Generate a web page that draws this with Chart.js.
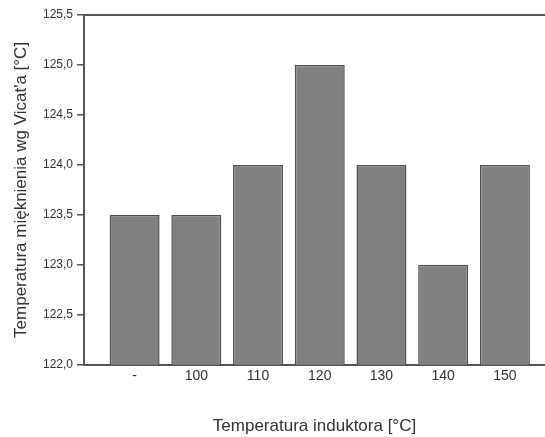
<!DOCTYPE html>
<html>
<head>
<meta charset="utf-8">
<script src="https://cdn.jsdelivr.net/npm/chart.js@4"></script>
<style>
  html, body { margin: 0; padding: 0; background: #fff; overflow: hidden; }
  #wrap { width: 545px; height: 437px; }
</style>
</head>
<body>
<div id="wrap"><canvas id="vicatChart"></canvas></div>
<script>
const categories = ['-', '100', '110', '120', '130', '140', '150'];
const vicatValues = [123.5, 123.5, 124.0, 125.0, 124.0, 123.0, 124.0];
const yTicks = [122.0, 122.5, 123.0, 123.5, 124.0, 124.5, 125.0, 125.5];

const axisColor = '#555555';
const textColor = '#333333';
const fontFamily = 'Liberation Sans, Arial, sans-serif';

// top frame line, like the reference box
const topLine = {
    id: 'topLine',
    afterDraw(chart) {
        const { ctx, chartArea } = chart;
        ctx.save();
        ctx.strokeStyle = axisColor;
        ctx.lineWidth = 2;
        ctx.beginPath();
        ctx.moveTo(chartArea.left, chartArea.top);
        ctx.lineTo(chart.width, chartArea.top);
        ctx.stroke();
        ctx.restore();
    }
};

const ctx = document.getElementById('vicatChart');
new Chart(ctx, {
    type: 'bar',
    data: {
        datasets: [{
            data: vicatValues.map((v, i) => ({ x: i, y: v })),
            backgroundColor: '#808080',
            borderColor: '#505050',
            borderWidth: 1.5,
            borderSkipped: false,
            categoryPercentage: 1.0,
            barPercentage: 0.81
        }]
    },
    options: {
        responsive: true,
        maintainAspectRatio: false,
        animation: false,
        layout: { padding: { top: 15, right: 0, bottom: 0, left: 11 } },
        plugins: { legend: { display: false }, tooltip: { enabled: false } },
        scales: {
            x: {
                type: 'linear',
                offset: false,
                min: -0.82,
                max: 6.65,
                grid: { display: false },
                border: { display: true, color: axisColor, width: 2 },
                ticks: {
                    stepSize: 1,
                    includeBounds: false,
                    autoSkip: false,
                    maxRotation: 0,
                    color: textColor,
                    padding: -5,
                    font: { family: fontFamily, size: 14 },
                    callback: (v) => categories[v] !== undefined ? categories[v] : ''
                },
                title: {
                    display: true,
                    text: 'Temperatura induktora [°C]',
                    color: textColor,
                    font: { family: fontFamily, size: 17 },
                    padding: { top: 37, bottom: 0 }
                }
            },
            y: {
                min: 122,
                max: 125.5,
                afterBuildTicks: (scale) => { scale.ticks = yTicks.map(v => ({ value: v })); },
                afterFit: (scale) => { scale.width = 73; },
                grid: { display: true, drawOnChartArea: false, drawTicks: true, tickLength: 7, color: axisColor, lineWidth: 1.5 },
                border: { display: true, color: axisColor, width: 2 },
                ticks: {
                    color: textColor,
                    padding: 4,
                    font: { family: fontFamily, size: 12 },
                    callback: (v) => v.toFixed(1).replace('.', ',')
                },
                title: {
                    display: true,
                    text: "Temperatura mięknienia wg Vicat'a [°C]",
                    color: textColor,
                    font: { family: fontFamily, size: 17 },
                    padding: { top: 0, bottom: 4 }
                }
            }
        }
    },
    plugins: [topLine]
});
</script>
</body>
</html>
